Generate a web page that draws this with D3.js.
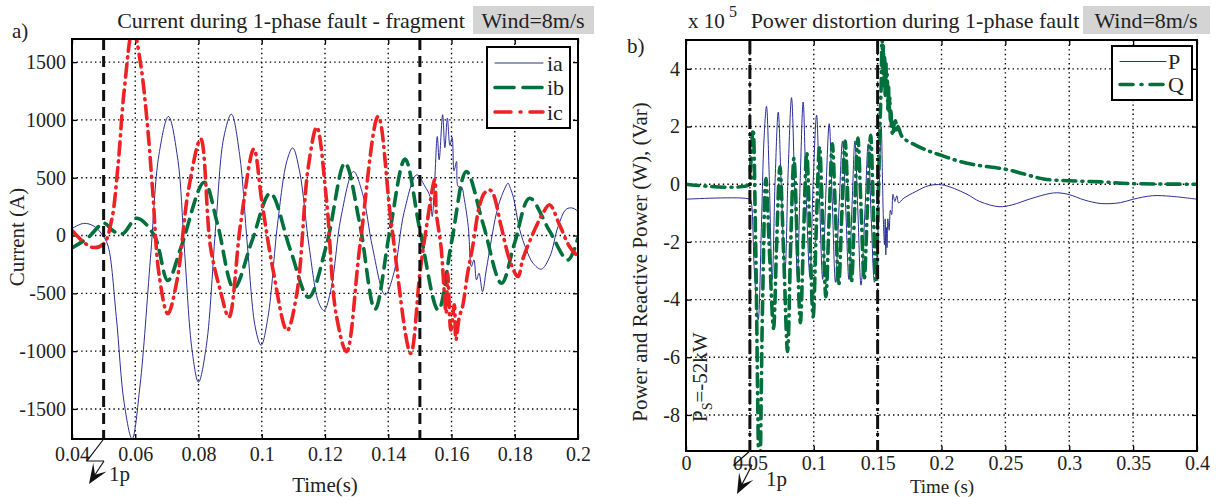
<!DOCTYPE html>
<html><head><meta charset="utf-8">
<script src="https://cdn.jsdelivr.net/npm/d3@7"></script>
<style>
body{margin:0;background:#fff;}
svg{display:block;}
text{font-family:"Liberation Serif","Times New Roman",serif;fill:#222;}
</style></head><body>
<svg id="c" width="1216" height="497"></svg>
<script>
// ---------- DATA: left chart (currents, A) ----------
const leftXTicks = [0.04,0.06,0.08,0.1,0.12,0.14,0.16,0.18,0.2];
const leftYTicks = [-1500,-1000,-500,0,500,1000,1500];
const iaT = [0.040,0.0437,0.047,0.050,0.0515,0.054,0.0565,0.059,0.0615,0.0648,0.0675,0.0705,0.0735,0.0755,0.078,0.080,0.0825,0.0855,0.088,0.0904,0.093,0.0955,0.098,0.0998,0.102,0.105,0.108,0.1098,0.112,0.115,0.118,0.1197,0.122,0.125,0.129,0.132,0.135,0.139,0.142,0.145,0.149,0.1515,0.1532,0.1539,0.1547,0.1555,0.1561,0.1572,0.1579,0.1587,0.1595,0.1602,0.1608,0.1616,0.1621,0.1632,0.1639,0.1653,0.1663,0.1671,0.1679,0.1687,0.1698,0.171,0.1726,0.1742,0.1758,0.1779,0.1784,0.1795,0.1816,0.1837,0.1858,0.1884,0.1911,0.1937,0.1963,0.1984,0.2];
const iaV = [60,105,80,-10,-100,-700,-1450,-1758,-1300,-200,700,1030,650,-100,-1000,-1268,-950,100,850,1050,700,-100,-800,-950,-700,100,650,758,550,-100,-580,-648,-450,150,554,350,-100,-514,-300,200,525,430,338,165,482,857,655,1045,760,1016,780,850,560,640,424,420,338,78,-268,-210,-384,-326,-485,-297,-38,193,338,453,424,338,49,-124,-240,-291,-182,78,228,237,208];
const ibT = [0.040,0.045,0.0501,0.053,0.056,0.0605,0.066,0.0703,0.0745,0.0818,0.086,0.0912,0.097,0.1027,0.109,0.1148,0.1205,0.1263,0.131,0.1358,0.1405,0.1453,0.150,0.1558,0.160,0.1647,0.170,0.1758,0.180,0.1847,0.191,0.1968,0.2];
const ibV = [-107,-20,107,40,15,150,0,-389,-100,461,100,-455,-40,366,-120,-533,-80,626,100,-638,40,661,50,-644,-60,554,100,-413,-60,323,40,-211,-20];
const icT = [0.040,0.0462,0.050,0.0525,0.0545,0.0565,0.0593,0.0617,0.0638,0.0655,0.0675,0.0703,0.0732,0.0768,0.0807,0.0838,0.0869,0.0896,0.0933,0.0975,0.100,0.1036,0.108,0.1111,0.1147,0.1174,0.1205,0.1235,0.1268,0.131,0.1368,0.141,0.1471,0.150,0.1521,0.1547,0.1552,0.1567,0.1583,0.1588,0.1598,0.1609,0.1614,0.1625,0.1635,0.1651,0.1667,0.1688,0.1704,0.172,0.1731,0.1757,0.1784,0.181,0.1826,0.1858,0.1889,0.191,0.1942,0.1973,0.2];
const icV = [43,-101,-72,130,590,1254,1800,1484,971,389,-331,-677,-389,389,836,-100,-475,-706,100,749,300,-302,-821,-500,591,937,300,-677,-1004,-100,1030,100,-1019,-326,78,482,200,-100,-672,-330,-817,-600,-903,-700,-615,-326,-95,251,366,395,366,80,-211,-355,-200,20,193,266,90,-95,-182];
const leftFault = [0.05,0.15];

// ---------- DATA: right chart (power, x1e5 W / Var) ----------
const rightXTicks = [0,0.05,0.1,0.15,0.2,0.25,0.3,0.35,0.4];
const rightXLabels = ["0","0.05","0.1","0.15","0.2","0.25","0.3","0.35","0.4"];
const rightYTicks = [-8,-6,-4,-2,0,2,4];
const pT = [0,0.05,0.051,0.0535,0.0565,0.059,0.061,0.063,0.065,0.0675,0.0698,0.0722,0.0745,0.0775,0.080,0.0826,0.085,0.0872,0.0895,0.0917,0.094,0.097,0.0995,0.1022,0.1045,0.107,0.1095,0.1121,0.1145,0.117,0.1198,0.1225,0.125,0.1275,0.130,0.1322,0.1345,0.137,0.140,0.1426,0.145,0.1475,0.1495,0.151,0.1528,0.1538,0.1546,0.1554,0.1559,0.1564,0.1569,0.1574,0.158,0.159,0.160,0.161,0.162,0.1635,0.165,0.1665,0.170,0.180,0.190,0.200,0.210,0.220,0.230,0.245,0.255,0.270,0.285,0.292,0.300,0.312,0.325,0.340,0.350,0.365,0.380,0.400];
const pV = [-0.52,-0.52,-0.6,-3.0,-4.7,-1.5,1.5,2.7,0.5,-3.3,0.2,2.5,0,-3.0,0.5,3.0,0,-3.2,0.3,2.85,-0.3,-3.2,0,2.4,-0.5,-3.3,-0.3,2.1,-0.6,-3.4,-0.8,1.5,-0.8,-3.3,-0.7,1.5,-0.9,-3.5,-1.0,1.4,-1.2,-3.4,-2.5,-0.5,2.0,0.2,-1.4,-2.1,-1.2,-2.45,-1.5,-2.2,-1.2,-1.6,-0.9,-1.05,-0.35,-0.6,-0.4,-0.65,-0.5,-0.25,-0.05,-0.02,-0.15,-0.35,-0.6,-0.78,-0.72,-0.5,-0.32,-0.3,-0.36,-0.55,-0.67,-0.64,-0.52,-0.4,-0.42,-0.52];
const qT = [0,0.05,0.0505,0.0525,0.0545,0.0575,0.06,0.0625,0.0655,0.0685,0.071,0.0735,0.0765,0.0795,0.082,0.0845,0.087,0.0895,0.092,0.0945,0.097,0.0995,0.102,0.1045,0.107,0.1095,0.112,0.1145,0.117,0.1195,0.122,0.1245,0.127,0.1295,0.132,0.1345,0.137,0.1395,0.142,0.1445,0.1465,0.1485,0.150,0.1515,0.1528,0.1535,0.154,0.1545,0.155,0.1555,0.156,0.1565,0.157,0.1575,0.158,0.1585,0.159,0.1595,0.160,0.1605,0.161,0.162,0.163,0.164,0.165,0.166,0.168,0.170,0.180,0.190,0.200,0.212,0.225,0.250,0.265,0.280,0.300,0.325,0.350,0.400];
const qV = [0,0,0.5,1.9,-2,-10.5,-4,0.2,-2.5,-5.0,-2,0.6,-2.5,-5.8,-2,0.9,-2,-4.8,-1.8,1.1,-1.8,-4.6,-1.5,1.3,-1.3,-3.9,-1.2,1.4,-1.0,-3.5,-1.0,1.5,-0.9,-3.4,-0.9,1.6,-0.8,-3.3,-0.8,1.7,-0.6,-3.3,-1.5,1.5,3.5,5.2,4.0,4.8,3.4,4.4,3.0,4.2,3.2,3.8,2.6,3.4,2.5,3.0,2.2,2.6,1.9,1.7,2.1,2.2,1.8,2.0,1.75,1.6,1.35,1.15,1.0,0.82,0.68,0.52,0.35,0.18,0.12,0.08,0.02,0];
const rightFault = [0.05,0.15];

const svg = d3.select("#c");
svg.append("rect").attr("width",1216).attr("height",497).attr("fill","#fff");

const blue="#2b2f95", green="#00703c", red="#ee2224";
const FS = 20;

function panel(o){
  const g = svg.append("g");
  const x = d3.scaleLinear().domain(o.xd).range([o.x0,o.x1]);
  const y = d3.scaleLinear().domain(o.yd).range([o.y1,o.y0]);
  const id = "clip"+o.name;
  svg.append("clipPath").attr("id",id).append("rect")
    .attr("x",o.x0).attr("y",o.y0).attr("width",o.x1-o.x0).attr("height",o.y1-o.y0);
  // grid
  const grid = g.append("g").attr("stroke","#000").attr("stroke-width",1.4).attr("stroke-dasharray","1.4,3.2");
  o.xt.forEach(v=>{ if(v>o.xd[0] && v<o.xd[1]) grid.append("line").attr("x1",x(v)).attr("x2",x(v)).attr("y1",o.y0).attr("y2",o.y1);});
  o.yt.forEach(v=>{ grid.append("line").attr("x1",o.x0).attr("x2",o.x1).attr("y1",y(v)).attr("y2",y(v));});
  // axes via d3
  const xa = d3.axisBottom(x).tickValues(o.xt).tickSize(-5).tickPadding(o.xpad).tickFormat((d,i)=>o.xl[i]);
  const gx = g.append("g").attr("transform",`translate(0,${o.y1})`).call(xa);
  const ya = d3.axisLeft(y).tickValues(o.yt).tickSize(-5).tickPadding(6).tickFormat(d=>String(d));
  const gy = g.append("g").attr("transform",`translate(${o.x0},0)`).call(ya);
  const xa2 = d3.axisTop(x).tickValues(o.xt).tickSize(-5).tickFormat("");
  g.append("g").attr("transform",`translate(0,${o.y0})`).call(xa2);
  const ya2 = d3.axisRight(y).tickValues(o.yt).tickSize(-5).tickFormat("");
  g.append("g").attr("transform",`translate(${o.x1},0)`).call(ya2);
  g.selectAll(".domain").remove();
  g.selectAll(".tick line").attr("stroke","#000").attr("stroke-width",1.3);
  g.selectAll(".tick text").attr("font-size",FS).attr("font-family","Liberation Serif").attr("fill","#222");
  gx.selectAll(".tick text").attr("dy","0.71em");
  // series
  const lines = g.append("g").attr("clip-path",`url(#${id})`);
  o.series.forEach(s=>{
    const pts = s.t.map((t,i)=>[t,s.v[i]]);
    lines.append("path").attr("d", d3.line().x(d=>x(d[0])).y(d=>y(d[1])).curve(d3.curveCatmullRom.alpha(0.5))(pts))
      .attr("fill","none").attr("stroke",s.color).attr("stroke-width",s.w).attr("stroke-dasharray",s.dash||null)
      .attr("stroke-linecap","round").attr("stroke-linejoin","round");
  });
  // fault lines
  o.fault.forEach(f=>{
    lines.append("line").attr("x1",x(f)).attr("x2",x(f)).attr("y1",o.y0).attr("y2",o.y1)
      .attr("stroke","#111").attr("stroke-width",3).attr("stroke-dasharray",o.faultDash);
  });
  // frame
  g.append("rect").attr("x",o.x0).attr("y",o.y0).attr("width",o.x1-o.x0).attr("height",o.y1-o.y0)
    .attr("fill","none").attr("stroke","#000").attr("stroke-width",2);
  // legend
  const L = o.legend;
  const lg = g.append("g");
  lg.append("rect").attr("x",L.x).attr("y",L.y).attr("width",L.w).attr("height",L.h).attr("fill","#fff").attr("stroke","#000").attr("stroke-width",2);
  o.series.forEach((s,i)=>{
    const yy = L.y+L.dy0+i*L.dy;
    lg.append("line").attr("x1",L.x+L.lx0).attr("x2",L.x+L.lx1).attr("y1",yy).attr("y2",yy)
      .attr("stroke",s.color).attr("stroke-width",s.w).attr("stroke-dasharray",s.ldash||s.dash||null).attr("stroke-linecap","round");
    lg.append("text").attr("x",L.x+L.tx).attr("y",yy).attr("dy","0.35em").attr("font-size",FS+2).text(s.name);
  });
  return {x,y};
}

const A = panel({name:"a", xd:[0.04,0.2], yd:[-1760,1700], x0:72, x1:578, y0:39, y1:439, xpad:8,
  xt:leftXTicks, xl:leftXTicks.map(String), yt:leftYTicks, fault:leftFault, faultDash:"11,6",
  series:[
    {name:"ia", t:iaT, v:iaV, color:blue, w:1},
    {name:"ib", t:ibT, v:ibV, color:green, w:3.6, dash:"13,8", ldash:"19,9"},
    {name:"ic", t:icT, v:icV, color:red, w:3.6, dash:"13,6,1,6", ldash:"16,9,1,9"}
  ],
  legend:{x:487,y:47,w:83,h:81,dy0:16,dy:24.5,lx0:8,lx1:56,tx:60}
});

const B = panel({name:"b", xd:[0,0.4], yd:[-9.25,5], x0:686, x1:1197, y0:40, y1:451, xpad:5,
  xt:rightXTicks, xl:rightXLabels, yt:rightYTicks, fault:rightFault, faultDash:"14,4,3,4",
  series:[
    {name:"P", t:pT, v:pV, color:blue, w:1},
    {name:"Q", t:qT, v:qV, color:green, w:3.6, dash:"13,6,1,6", ldash:"13,8,1,8"}
  ],
  legend:{x:1112,y:46,w:80,h:54,dy0:15.5,dy:23,lx0:8,lx1:54,tx:56}
});

// titles & labels
function txt(x,y,s,opt={}){
  const t = svg.append("text").attr("x",x).attr("y",y).attr("font-size",opt.fs||FS+1).attr("text-anchor",opt.anchor||"start").text(s);
  if(opt.rot) t.attr("transform",`rotate(-90,${x},${y})`);
  return t;
}
txt(12,38,"a)");
txt(291,28,"Current during 1-phase fault - fragment",{anchor:"middle",fs:22});
svg.append("rect").attr("x",473).attr("y",6).attr("width",121).attr("height",28).attr("fill","#d4d4d4");
txt(533,28,"Wind=8m/s",{anchor:"middle",fs:22});
txt(24,237,"Current (A)",{anchor:"middle",rot:true});
txt(325,492,"Time(s)",{anchor:"middle"});

txt(627,53,"b)");
txt(688,28,"x 10");
txt(729,17,"5",{fs:16});
txt(915,28,"Power distortion during 1-phase fault",{anchor:"middle",fs:22});
svg.append("rect").attr("x",1083).attr("y",6).attr("width",127).attr("height",28).attr("fill","#d4d4d4");
txt(1146,28,"Wind=8m/s",{anchor:"middle",fs:22});
txt(647,262,"Power and Reactive Power (W), (Var)",{anchor:"middle",rot:true});
txt(942,492.5,"Time (s)",{anchor:"middle",fs:19});
// P_S annotation
const ps = svg.append("text").attr("transform","translate(707,422) rotate(-90)").attr("font-size",FS+1);
ps.append("tspan").text("P");
ps.append("tspan").attr("font-size",14).attr("dy",5).text("S");
ps.append("tspan").attr("dy",-5).text("=-52kW");

// 1p arrows
function arrow(pts, tip, label){
  svg.append("path").attr("d",d3.line()(pts)).attr("fill","none").attr("stroke","#111").attr("stroke-width",1.2);
  const [ax,ay]=pts[pts.length-1];
  const ang=Math.atan2(tip[1]-ay,tip[0]-ax);
  const L=20, W=8;
  const bx=tip[0]-L*Math.cos(ang), by=tip[1]-L*Math.sin(ang);
  const nx=-Math.sin(ang), ny=Math.cos(ang);
  const mx=tip[0]-L*0.55*Math.cos(ang), my=tip[1]-L*0.55*Math.sin(ang);
  svg.append("path").attr("d",`M${tip[0]},${tip[1]}L${bx+nx*W},${by+ny*W}L${mx},${my}L${bx-nx*W},${by-ny*W}Z`).attr("fill","#111");
  svg.append("line").attr("x1",ax).attr("y1",ay).attr("x2",mx).attr("y2",my).attr("stroke","#111").attr("stroke-width",1.2);
  txt(label[0],label[1],"1p");
}
arrow([[A.x(0.05),439],[87,461],[104,461]],[89,484],[109,481]);
arrow([[B.x(0.05),451],[734,465],[752,465]],[737,494],[766,486]);
</script>
</body></html>
